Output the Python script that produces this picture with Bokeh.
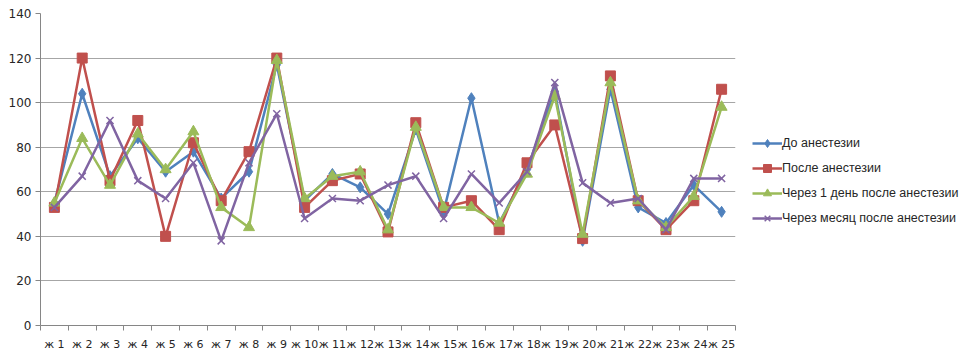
from bokeh.plotting import figure
from bokeh.models import Range1d, FixedTicker, Legend, LegendItem, ColumnDataSource
from bokeh.embed import file_html
from bokeh.resources import INLINE

categories = ["ж " + str(i) for i in range(1, 26)]
x_index = list(range(1, 26))

do_anest = [55, 104, 67, 84, 69, 78, 57, 69, 117, 56, 68, 62, 50, 88, 51, 102, 46, 70, 105, 38, 106, 53, 46, 63, 51]
posle_anest = [53, 120, 65, 92, 40, 82, 56, 78, 120, 53, 65, 68, 42, 91, 53, 56, 43, 73, 90, 39, 112, 56, 43, 56, 106]
cherez_den = [55, 84, 63, 86, 70, 87, 53, 44, 119, 57, 67, 69, 43, 89, 53, 53, 46, 68, 103, 41, 109, 56, 44, 58, 98]
cherez_mes = [53, 67, 92, 65, 57, 73, 38, 73, 95, 48, 57, 56, 63, 67, 48, 68, 55, 69, 109, 64, 55, 57, 43, 66, 66]

series_names = ["До анестезии", "После анестезии", "Через 1 день после анестезии", "Через месяц после анестезии"]
y_ticks = [0, 20, 40, 60, 80, 100, 120, 140]

AXFONT = "DejaVu Sans"
LGFONT = "Liberation Sans Narrow, Liberation Sans, sans-serif"

p = figure(frame_width=695, frame_height=312, output_backend="svg", toolbar_location=None,
           x_range=Range1d(0.5, 25.5), y_range=Range1d(0, 140),
           min_border_left=40, min_border_right=222, min_border_top=13, min_border_bottom=30)
p.outline_line_color = None
p.background_fill_color = "white"

src = ColumnDataSource(dict(x=x_index, a=do_anest, b=posle_anest, c=cherez_den, d=cherez_mes))

colors = ["#4F81BD", "#C0504D", "#9BBB59", "#8064A2"]
lw = 2.5
l1 = p.line("x", "a", source=src, line_color=colors[0], line_width=lw)
m1 = p.scatter("x", "a", source=src, marker="diamond", size=11, fill_color=colors[0], line_color=colors[0])
l2 = p.line("x", "b", source=src, line_color=colors[1], line_width=lw)
m2 = p.scatter("x", "b", source=src, marker="square", size=10, fill_color=colors[1], line_color=colors[1])
l3 = p.line("x", "c", source=src, line_color=colors[2], line_width=lw)
m3 = p.scatter("x", "c", source=src, marker="triangle", size=11, fill_color=colors[2], line_color=colors[2])
l4 = p.line("x", "d", source=src, line_color=colors[3], line_width=lw)
m4 = p.scatter("x", "d", source=src, marker="x", size=10, line_color=colors[3], line_width=1.5)

# axes
p.xaxis.ticker = FixedTicker(ticks=x_index, minor_ticks=[i + 0.5 for i in range(0, 26)])
p.xaxis.major_label_overrides = {i: c for i, c in zip(x_index, categories)}
p.xaxis.major_tick_line_color = None
p.xaxis.minor_tick_in = 0
p.xaxis.minor_tick_out = 5
p.xaxis.minor_tick_line_color = "#868686"
p.xaxis.axis_line_color = "#868686"
p.xaxis.major_label_text_font = AXFONT
p.xaxis.major_label_text_font_size = "11px"
p.xaxis.major_label_text_color = "#262626"
p.xaxis.major_label_standoff = 6

p.yaxis.ticker = FixedTicker(ticks=y_ticks)
p.yaxis.minor_tick_line_color = None
p.yaxis.major_tick_in = 0
p.yaxis.major_tick_out = 5
p.yaxis.major_tick_line_color = "#868686"
p.yaxis.axis_line_color = "#868686"
p.yaxis.major_label_text_font = AXFONT
p.yaxis.major_label_text_font_size = "12px"
p.yaxis.major_label_text_color = "#262626"
p.yaxis.major_label_standoff = 4

p.xgrid.grid_line_color = None
p.ygrid.grid_line_color = "#A6A6A6"
p.ygrid.ticker = FixedTicker(ticks=y_ticks)

legend = Legend(items=[
    LegendItem(label=series_names[0], renderers=[l1, m1]),
    LegendItem(label=series_names[1], renderers=[l2, m2]),
    LegendItem(label=series_names[2], renderers=[l3, m3]),
    LegendItem(label=series_names[3], renderers=[l4, m4]),
], location=(17, 97))
legend.border_line_color = None
legend.background_fill_alpha = 0
legend.padding = 0
legend.margin = 0
legend.spacing = 5
legend.glyph_width = 30
legend.glyph_height = 20
legend.label_height = 20
legend.label_standoff = 0
legend.label_text_font = LGFONT
legend.label_text_font_size = "12.5px"
legend.label_text_color = "#262626"
p.add_layout(legend, "right")

open("out.html", "w").write(file_html(p, INLINE))
